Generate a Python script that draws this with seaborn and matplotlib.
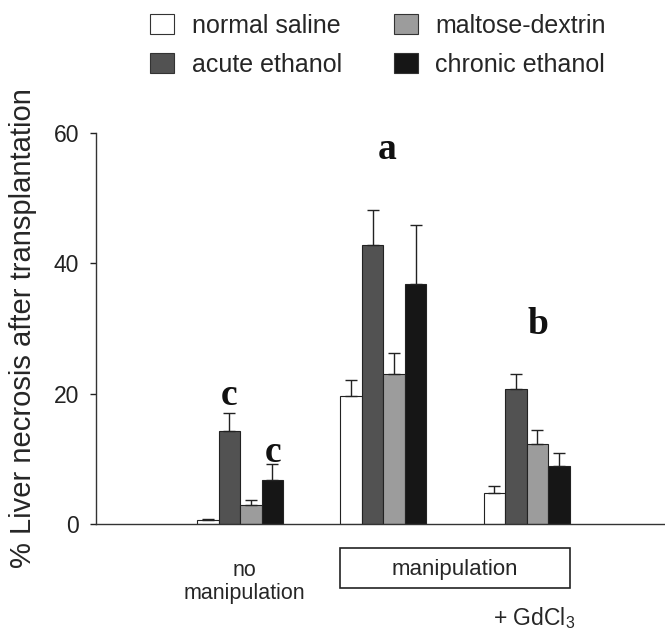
import pandas as pd
import seaborn as sns
import matplotlib.pyplot as plt
from matplotlib.patches import Rectangle, Patch

# data
groups = ["no manipulation", "manipulation", "manipulation + GdCl3"]
treatments = ["normal saline", "acute ethanol", "maltose-dextrin", "chronic ethanol"]
means = {
    "normal saline":   [0.6, 19.7, 4.8],
    "acute ethanol":   [14.3, 42.8, 20.8],
    "maltose-dextrin": [3.0, 23.0, 12.3],
    "chronic ethanol": [6.8, 36.8, 8.9],
}
errors = {
    "normal saline":   [0.2, 2.4, 1.1],
    "acute ethanol":   [2.7, 5.3, 2.2],
    "maltose-dextrin": [0.7, 3.3, 2.1],
    "chronic ethanol": [2.5, 9.0, 2.0],
}
colors = ["#ffffff", "#525252", "#9c9c9c", "#161616"]
letters = [("c", -0.075, 18.2), ("c", 0.23, 9.6), ("a", 1.03, 56.0), ("b", 2.08, 29.2)]

rows = []
for t in treatments:
    for g, m in zip(groups, means[t]):
        rows.append({"group": g, "treatment": t, "mean": m})
df = pd.DataFrame(rows)

sns.set_style("ticks")
plt.rcParams["font.family"] = ["Liberation Sans", "DejaVu Sans"]
plt.rcParams["mathtext.default"] = "regular"

fig = plt.figure(figsize=(6.65, 6.31), dpi=100)
ax = fig.add_axes([0.1444, 0.169, 0.8556, 0.621])

sns.barplot(data=df, x="group", y="mean", hue="treatment", order=groups,
            hue_order=treatments, palette=colors, edgecolor="#222222",
            linewidth=0.8, width=0.6, errorbar=None, legend=False, ax=ax)

# upper error bars only
for cont, t in zip(ax.containers, treatments):
    xs = [b.get_x() + b.get_width() / 2 for b in cont]
    ys = [b.get_height() for b in cont]
    ax.errorbar(xs, ys, yerr=[[0] * len(ys), errors[t]], fmt="none",
                ecolor="#222222", elinewidth=1, capsize=4, capthick=1)

for s, x, y in letters:
    ax.text(x, y, s, ha="center", va="baseline", fontsize=27,
            fontweight="bold", family="Liberation Serif", color="#111111")

ax.set_xlim(-1.005, 2.966)
ax.set_ylim(0, 60)
ax.set_yticks([0, 20, 40, 60])
ax.set_xticks([])
ax.set_xlabel("")
ax.set_ylabel("% Liver necrosis after transplantation", fontsize=21, labelpad=12)
ax.tick_params(axis="y", labelsize=16.5, length=4, width=1, pad=8, colors="#222222")
for side in ["top", "right"]:
    ax.spines[side].set_visible(False)
for side in ["left", "bottom"]:
    ax.spines[side].set_color("#333333")
    ax.spines[side].set_linewidth(1)

# group labels under the axis
tr = ax.get_xaxis_transform()
ax.text(0.03, -0.147, "no\nmanipulation", transform=tr, ha="center", va="center",
        fontsize=15.5, linespacing=1.15)
ax.add_patch(Rectangle((0.7, -0.1625), 1.6, 0.102, transform=tr, fill=False,
                       edgecolor="#222222", linewidth=1.2, clip_on=False))
ax.text(1.5, -0.114, "manipulation", transform=tr, ha="center", va="center", fontsize=16)
ax.text(2.05, -0.239, "+ GdCl$_3$", transform=tr, ha="center", va="center", fontsize=16.5)

handles = [Patch(facecolor=c, edgecolor="#333333", linewidth=0.8) for c in colors]
fig.legend(handles, treatments, loc="upper left", bbox_to_anchor=(0.226, 0.978),
           ncol=2, frameon=False, fontsize=18, handlelength=0.95, handleheight=0.85,
           handletextpad=0.7, columnspacing=2.1, labelspacing=0.6,
           borderpad=0, borderaxespad=0)

plt.savefig("out.png", dpi=100)
